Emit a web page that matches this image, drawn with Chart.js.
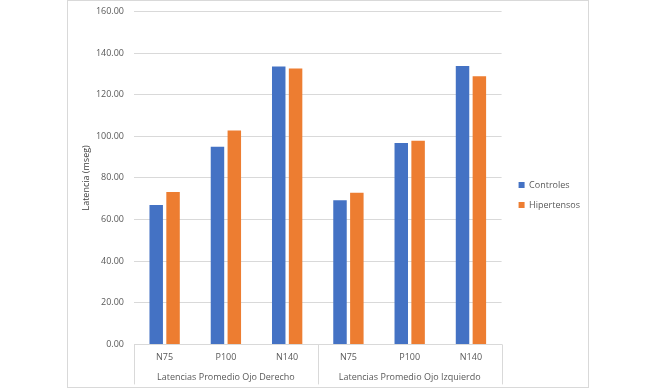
<!DOCTYPE html>
<html>
<head>
<meta charset="utf-8">
<script src="https://cdn.jsdelivr.net/npm/chart.js@4/dist/chart.umd.min.js"></script>
<style>
  html, body { margin: 0; padding: 0; background: #fff; }
  #wrap { width: 656px; height: 389px; }
</style>
</head>
<body>
<div id="wrap"><canvas id="grafico" width="656" height="389"></canvas></div>
<script>
var categorias = ['N75', 'P100', 'N140', 'N75', 'P100', 'N140'];
var grupos = ['Latencias Promedio Ojo Derecho', 'Latencias Promedio Ojo Izquierdo'];
var controles = [67.0, 95.0, 133.5, 69.3, 96.8, 133.8];
var hipertensos = [73.2, 102.8, 132.6, 72.9, 97.9, 128.8];
var ejeY = { min: 0, max: 160, paso: 20 };

var gris = '#595959';
var linea = '#d9d9d9';
var fuente = { family: "'Open Sans', sans-serif", size: 9 };

// marco del grafico, separadores de grupos bajo el eje y leyenda un poco a la derecha
var separadores = {
    id: 'separadores',
    afterLayout: function(chart) {
        if (chart.legend) chart.legend.left = chart.chartArea.right + 6;
    },
    beforeDraw: function(chart) {
        var ctx = chart.ctx;
        ctx.save();
        ctx.strokeStyle = linea;
        ctx.lineWidth = 1;
        ctx.strokeRect(67.5, 0.5, 521, 387);
        ctx.restore();
    },
    afterDraw: function(chart) {
        var ctx = chart.ctx;
        var xs = chart.scales.x;
        var abajo = chart.chartArea.bottom;
        var medio = (xs.getPixelForValue(2) + xs.getPixelForValue(3)) / 2;
        var xsList = [xs.left, medio, xs.right];
        ctx.save();
        ctx.strokeStyle = linea;
        ctx.lineWidth = 1;
        xsList.forEach(function(px) {
            var p = Math.round(px) + 0.5;
            ctx.beginPath();
            ctx.moveTo(p, abajo);
            ctx.lineTo(p, abajo + 40);
            ctx.stroke();
        });
        ctx.restore();
    }
};

new Chart(document.getElementById('grafico'), {
    type: 'bar',
    data: {
        labels: categorias,
        datasets: [{
            label: 'Controles',
            data: controles,
            backgroundColor: '#4472C4',
            xAxisID: 'x'
        }, {
            label: 'Hipertensos',
            data: hipertensos,
            backgroundColor: '#ED7D31',
            xAxisID: 'x'
        }]
    },
    options: {
        responsive: false,
        animation: false,
        layout: { padding: { left: 81, right: 72, top: 6, bottom: 5 } },
        datasets: {
            bar: { categoryPercentage: 0.55, barPercentage: 0.8 }
        },
        plugins: {
            legend: {
                position: 'right',
                labels: {
                    boxWidth: 6,
                    boxHeight: 6,
                    padding: 11,
                    color: gris,
                    font: fuente
                }
            },
            tooltip: { enabled: false }
        },
        scales: {
            x: {
                grid: { display: false, drawTicks: false },
                border: { color: linea },
                ticks: { color: gris, font: fuente, padding: 8 }
            },
            x2: {
                type: 'category',
                labels: grupos,
                position: 'bottom',
                offset: true,
                grid: { display: false, drawTicks: false },
                border: { display: false },
                ticks: { color: gris, font: fuente, padding: 1 }
            },
            y: {
                min: ejeY.min,
                max: ejeY.max,
                afterFit: function(scale) { scale.width = 53; },
                ticks: {
                    stepSize: ejeY.paso,
                    color: gris,
                    font: fuente,
                    padding: 6,
                    callback: function(v) { return v.toFixed(2); }
                },
                grid: { color: linea, drawTicks: true, tickLength: 4, tickColor: 'rgba(0,0,0,0)' },
                border: { display: false },
                title: {
                    display: true,
                    text: 'Latencia (mseg)',
                    color: '#404040',
                    font: fuente,
                    padding: { top: 0, bottom: 0 }
                }
            }
        }
    },
    plugins: [separadores]
});
</script>
</body>
</html>
